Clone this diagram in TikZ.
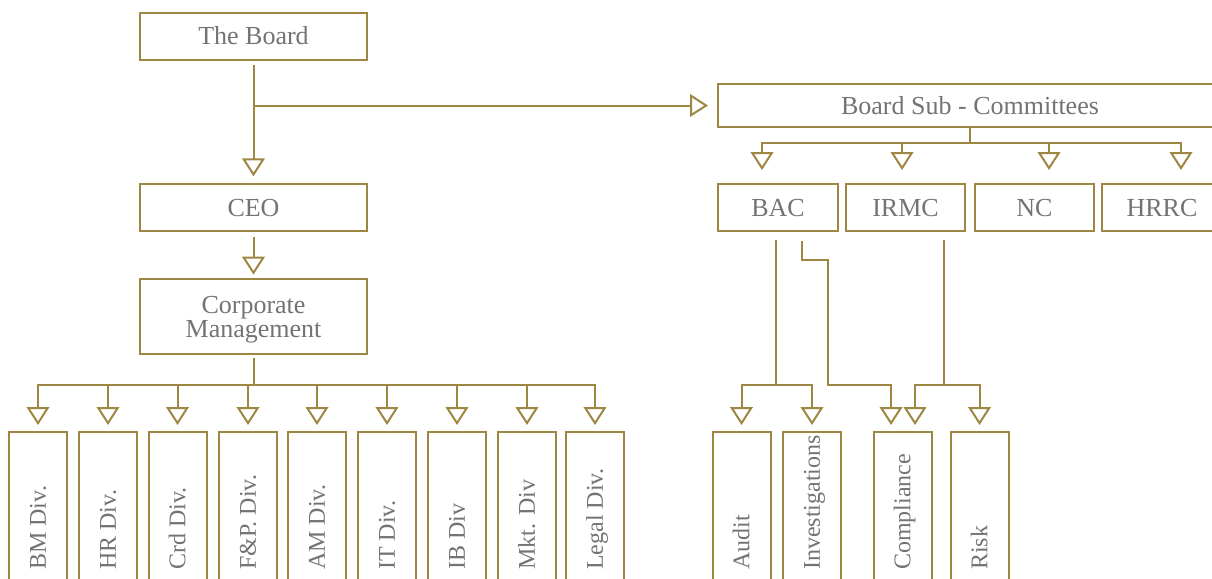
\documentclass[tikz,border=0pt]{standalone}
\usepackage{fontspec}
\setmainfont{Liberation Serif}
\usetikzlibrary{arrows.meta}
\definecolor{gold}{RGB}{158,135,66}
\definecolor{tgray}{RGB}{115,115,115}
\begin{document}
\begin{tikzpicture}[x=0.75pt,y=-0.75pt,
  box/.style={draw=gold, line width=1.5pt, text=tgray, inner sep=0pt,
    font=\fontsize{19.5}{16.3}\selectfont, text height=12.9pt, text depth=0pt},
  divbox/.style={draw=gold, line width=1.5pt, minimum width=43.5pt,
    minimum height=127.5pt, anchor=north, inner sep=0pt},
  vtext/.style={rotate=90, anchor=west, text=tgray, inner sep=0pt,
    font=\fontsize{18}{18}\selectfont, text height=11.9pt, text depth=0pt},
  conn/.style={draw=gold, line width=1.5pt, line cap=rect},
  arr/.style={draw=gold, line width=1.5pt,
    -{Triangle[open, length=13.5pt, width=17pt]}, shorten >=4.5pt}
]
\useasboundingbox (0,0) rectangle (1212,578);
\clip (0,0) rectangle (1212,578);

% left column
\node[box, minimum width=170.25pt, minimum height=35.25pt] (board) at (253.5,36) {The Board};
\node[box, minimum width=170.25pt, minimum height=35.25pt] (ceo) at (253.5,207.5) {CEO};
\node[box, minimum width=170.25pt, minimum height=56.25pt, align=center,
  text height={}, text depth=0pt] (corp) at (253.5,316.5) {Corporate\\Management};

% sub committees
\node[box, minimum width=378pt, minimum height=32.25pt] (sub) at (970,105.5) {Board Sub - Committees};
\node[box, minimum width=90pt, minimum height=35.25pt] (bac) at (778,207.5) {BAC};
\node[box, minimum width=89.25pt, minimum height=35.25pt] (irmc) at (905.5,207.5) {IRMC};
\node[box, minimum width=89.25pt, minimum height=35.25pt] (nc) at (1034.5,207.5) {NC};
\node[box, minimum width=90pt, minimum height=35.25pt] (hrrc) at (1162,207.5) {HRRC};

% divisions
\foreach \n/\x/\t in {bm/38/BM Div., hr/108/HR Div., crd/177.5/Crd Div., fp/248/F\&P. Div.,
  am/317/AM Div., it/387/IT Div., ib/457/IB Div, mkt/527/Mkt. Div, legal/595/Legal Div.,
  audit/741.5/Audit, inv/812/Investigations, comp/902.5/Compliance, risk/979.5/Risk}{
  \node[divbox] (\n) at (\x,431) {};
  \node[vtext] (\n t) at (\x,570) {\t};
}

% connectors left
\coordinate (cbar) at (0,385);
\coordinate (sbar) at (0,143);
\draw[arr, shorten <=3pt, shorten >=5pt] (board.south) -- (ceo.north);
\draw[arr, shorten >=6.75pt] (board.south |- sub.west) -- (sub.west);
\draw[arr, shorten <=3.5pt, shorten >=2.5pt] (ceo.south) -- (corp.north);
\draw[conn, shorten <=3pt] (corp.south) -- (corp.south |- cbar);
\draw[conn] (bm.north |- cbar) -- (legal.north |- cbar);
\foreach \n in {bm,hr,crd,fp,am,it,ib,mkt,legal}{
  \draw[arr] (\n.north |- cbar) -- (\n.north);
}

% connectors to committees
\coordinate (bacin) at ([xshift=-12pt]bac.north);
\coordinate (irmcin) at ([xshift=-2.6pt]irmc.north);
\coordinate (ncin) at ([xshift=10.9pt]nc.north);
\coordinate (hrrcin) at ([xshift=14.25pt]hrrc.north);
\draw[conn] (sub.south) -- (sub.south |- sbar);
\draw[conn] (bacin |- sbar) -- (hrrcin |- sbar);
\foreach \n in {bacin,irmcin,ncin,hrrcin}{
  \draw[arr, shorten >=9.75pt] (\n |- sbar) -- (\n);
}

% BAC and IRMC to functions
\coordinate (bacout1) at ([xshift=-1.5pt]bac.south);
\coordinate (bacout2) at ([xshift=18pt]bac.south);
\coordinate (kink) at (828,260);
\coordinate (irmcout) at ([xshift=28.9pt]irmc.south);
\coordinate (compin1) at ([xshift=-8.6pt]comp.north);
\coordinate (compin2) at ([xshift=9.4pt]comp.north);

\draw[conn, shorten <=6.75pt] (bacout1) -- (bacout1 |- cbar);
\draw[conn] (audit.north |- cbar) -- (inv.north |- cbar);
\draw[arr] (audit.north |- cbar) -- (audit.north);
\draw[arr] (inv.north |- cbar) -- (inv.north);
\draw[arr, shorten <=6.75pt] (bacout2) -- (bacout2 |- kink) -- (kink) -- (kink |- cbar) -- (compin1 |- cbar) -- (compin1);
\draw[conn, shorten <=6.75pt] (irmcout) -- (irmcout |- cbar);
\draw[conn] (compin2 |- cbar) -- (risk.north |- cbar);
\draw[arr] (compin2 |- cbar) -- (compin2);
\draw[arr] (risk.north |- cbar) -- (risk.north);
\end{tikzpicture}
\end{document}
